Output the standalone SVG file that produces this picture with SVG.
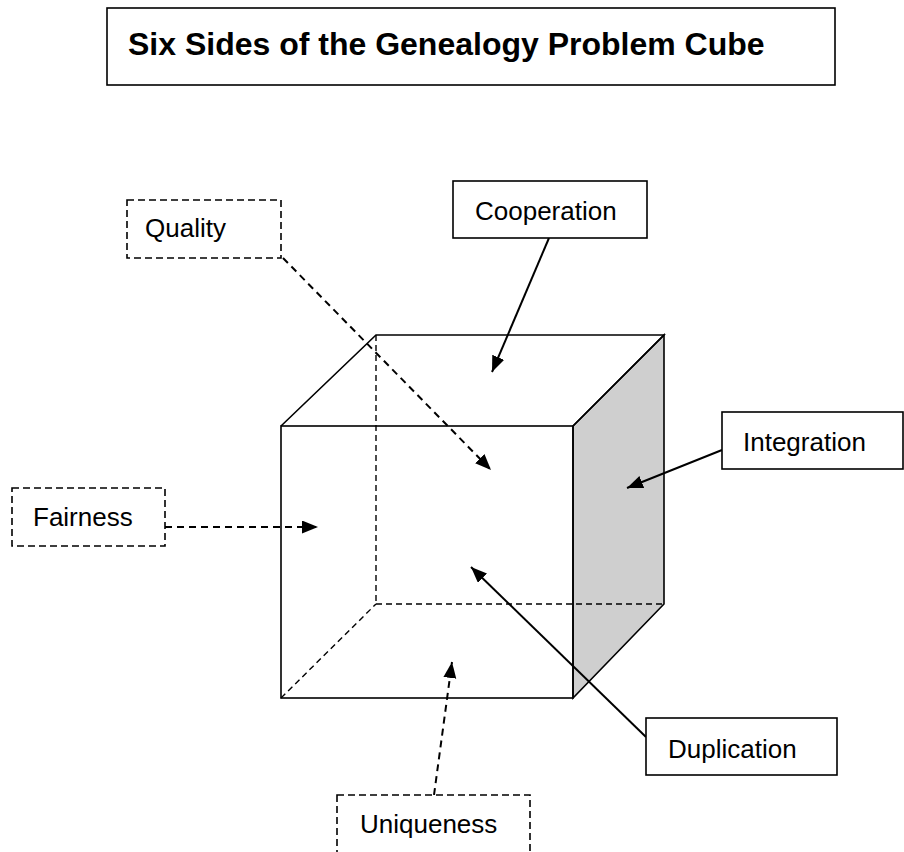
<svg xmlns="http://www.w3.org/2000/svg" width="904" height="852" viewBox="0 0 904 852">
<style>
.box{fill:#fff;stroke:#000;stroke-width:1.6}
.dbox{fill:#fff;stroke:#000;stroke-width:1.6;stroke-dasharray:7 4}
.lbl{font-family:"Liberation Sans",Arial,sans-serif;font-size:26px;fill:#000}
.title{font-family:"Liberation Sans",Arial,sans-serif;font-size:32px;font-weight:bold;fill:#000}
.edge{fill:none;stroke:#000;stroke-width:1.6}
.hid{fill:none;stroke:#000;stroke-width:1.4;stroke-dasharray:6 4}
.arr{fill:none;stroke:#000;stroke-width:2;marker-end:url(#ah)}
.darr{fill:none;stroke:#000;stroke-width:2;stroke-dasharray:7 5;marker-end:url(#ah)}
</style>
<defs>
<marker id="ah" markerUnits="userSpaceOnUse" markerWidth="18" markerHeight="14" refX="16" refY="6.5" orient="auto">
<path d="M0,0 L16,6.5 L0,13 z" fill="#000"/>
</marker>
</defs>
<rect width="904" height="852" fill="#fff"/>
<g id="title">
<rect class="box" x="107" y="8" width="728" height="77"/>
<text class="title" x="128" y="55">Six Sides of the Genealogy Problem Cube</text>
</g>
<g id="cube">
<polygon points="573,426 664,335 664,604 573,698" fill="#cfcfcf" stroke="#000" stroke-width="1.6"/>
<polyline class="edge" points="281,426 376,335 664,335 573,426"/>
<rect class="edge" x="281" y="426" width="292" height="272"/>
<line class="hid" x1="376" y1="335" x2="376" y2="604"/>
<line class="hid" x1="376" y1="604" x2="664" y2="604"/>
<line class="hid" x1="281" y1="698" x2="376" y2="604"/>
</g>
<g id="connectors">
<line class="arr" x1="549" y1="238" x2="492" y2="372"/>
<line class="darr" x1="283" y1="258" x2="491" y2="470"/>
<line class="arr" x1="722" y1="450" x2="627" y2="488"/>
<line class="darr" x1="165" y1="527" x2="318" y2="527"/>
<line class="arr" x1="646" y1="737" x2="471" y2="567"/>
<line class="darr" x1="434" y1="795" x2="452" y2="662"/>
</g>
<g id="quality">
<rect class="dbox" x="127" y="200" width="154" height="58"/>
<text class="lbl" x="145" y="237">Quality</text>
</g>
<g id="cooperation">
<rect class="box" x="453" y="181" width="194" height="57"/>
<text class="lbl" x="475" y="220">Cooperation</text>
</g>
<g id="integration">
<rect class="box" x="722" y="412" width="181" height="57"/>
<text class="lbl" x="743" y="451">Integration</text>
</g>
<g id="fairness">
<rect class="dbox" x="12" y="488" width="153" height="58"/>
<text class="lbl" x="33" y="526">Fairness</text>
</g>
<g id="duplication">
<rect class="box" x="646" y="718" width="191" height="57"/>
<text class="lbl" x="668" y="758">Duplication</text>
</g>
<g id="uniqueness">
<rect class="dbox" x="337" y="795" width="193" height="80"/>
<text class="lbl" x="360" y="833">Uniqueness</text>
</g>
</svg>
